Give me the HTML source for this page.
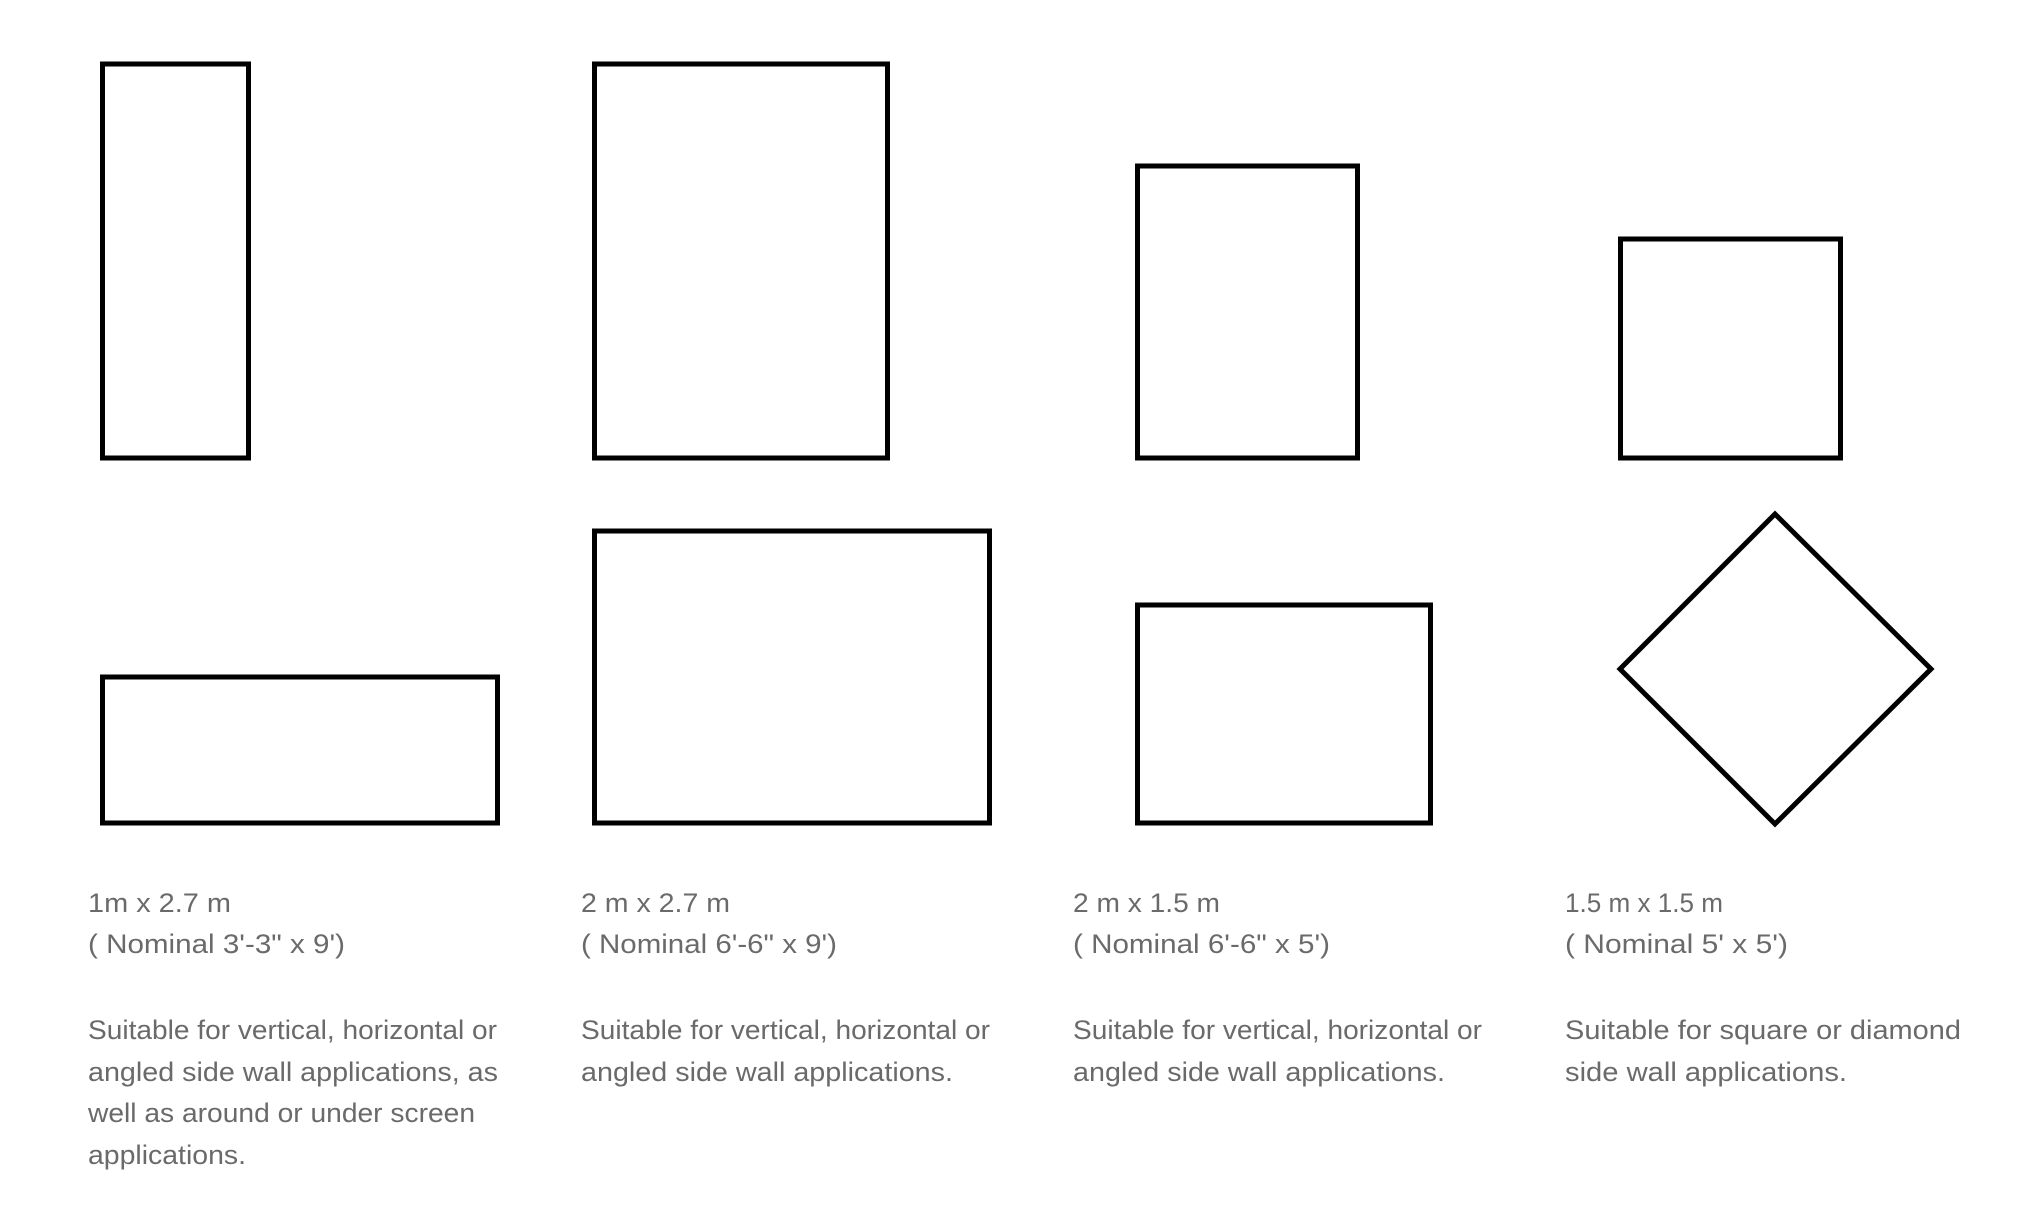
<!DOCTYPE html>
<html><head><meta charset="utf-8"><style>
html,body{margin:0;padding:0;background:#fff;}
svg{display:block}
text{font-family:"Liberation Sans",sans-serif;font-size:27px;fill:#6a6a6a;}
</style></head><body>
<svg width="2024" height="1224" viewBox="0 0 2024 1224" xmlns="http://www.w3.org/2000/svg">
<g fill="none" stroke="#000" stroke-width="5">
<rect x="102.5" y="64" width="146" height="394"/>
<rect x="594.5" y="64" width="293" height="394"/>
<rect x="1137.5" y="166" width="220" height="292"/>
<rect x="1620.5" y="239" width="220" height="219"/>
<rect x="102.5" y="677" width="395" height="146"/>
<rect x="594.5" y="531" width="395" height="292"/>
<rect x="1137.5" y="605" width="293" height="218"/>
<polygon points="1775,514 1931,669 1775,824 1620,669"/>
</g>
<g>
<text x="88" y="912" textLength="143" lengthAdjust="spacingAndGlyphs">1m x 2.7 m</text>
<text x="88" y="953" textLength="257" lengthAdjust="spacingAndGlyphs">( Nominal 3'-3" x 9')</text>
<text x="88" y="1039" textLength="409" lengthAdjust="spacingAndGlyphs">Suitable for vertical, horizontal or</text>
<text x="88" y="1081" textLength="410" lengthAdjust="spacingAndGlyphs">angled side wall applications, as</text>
<text x="88" y="1122" textLength="387" lengthAdjust="spacingAndGlyphs">well as around or under screen</text>
<text x="88" y="1164" textLength="158" lengthAdjust="spacingAndGlyphs">applications.</text>

<text x="581" y="912" textLength="149" lengthAdjust="spacingAndGlyphs">2 m x 2.7 m</text>
<text x="581" y="953" textLength="256" lengthAdjust="spacingAndGlyphs">( Nominal 6'-6" x 9')</text>
<text x="581" y="1039" textLength="409" lengthAdjust="spacingAndGlyphs">Suitable for vertical, horizontal or</text>
<text x="581" y="1081" textLength="372" lengthAdjust="spacingAndGlyphs">angled side wall applications.</text>

<text x="1073" y="912" textLength="147" lengthAdjust="spacingAndGlyphs">2 m x 1.5 m</text>
<text x="1073" y="953" textLength="257" lengthAdjust="spacingAndGlyphs">( Nominal 6'-6" x 5')</text>
<text x="1073" y="1039" textLength="409" lengthAdjust="spacingAndGlyphs">Suitable for vertical, horizontal or</text>
<text x="1073" y="1081" textLength="372" lengthAdjust="spacingAndGlyphs">angled side wall applications.</text>

<text x="1565" y="912" textLength="158" lengthAdjust="spacingAndGlyphs">1.5 m x 1.5 m</text>
<text x="1565" y="953" textLength="223" lengthAdjust="spacingAndGlyphs">( Nominal 5' x 5')</text>
<text x="1565" y="1039" textLength="396" lengthAdjust="spacingAndGlyphs">Suitable for square or diamond</text>
<text x="1565" y="1081" textLength="282" lengthAdjust="spacingAndGlyphs">side wall applications.</text>
</g>
</svg>
</body></html>
